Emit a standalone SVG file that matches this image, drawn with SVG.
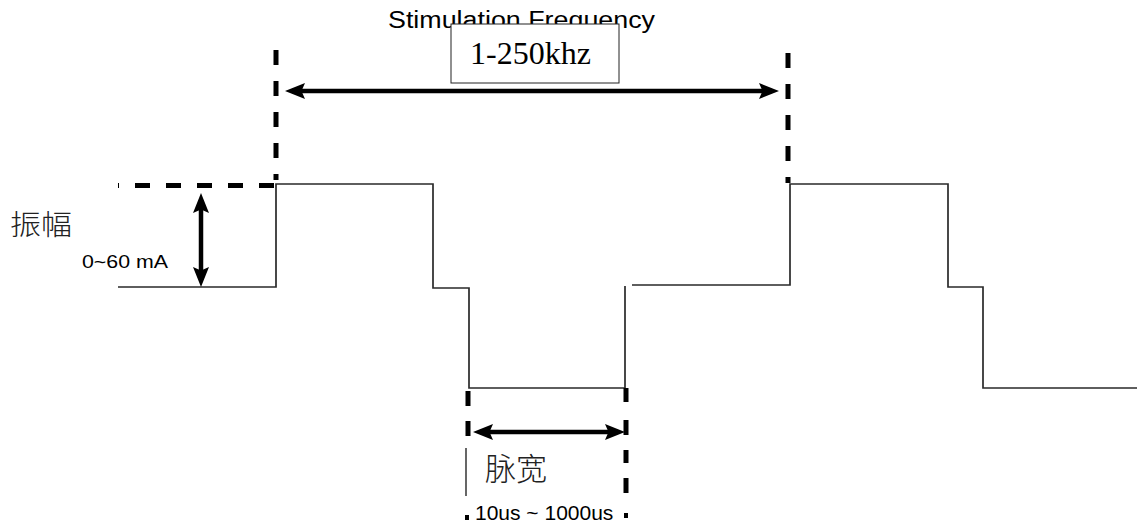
<svg xmlns="http://www.w3.org/2000/svg" width="1137" height="532" viewBox="0 0 1137 532">
<style>
.wave{fill:none;stroke:#2a2a2a;stroke-width:1.7}
.dash{fill:none;stroke:#000;stroke-width:5}
.arr{fill:none;stroke:#000;stroke-width:4.5}
.sans{font-family:"Liberation Sans",Arial,sans-serif;fill:#000}
.serif{font-family:"Liberation Serif","Times New Roman",serif;fill:#000}
.cjk{font-family:"Noto Sans CJK SC","Noto Sans",sans-serif;font-weight:300;fill:#222}
</style>
<defs>
<marker id="ah" markerUnits="userSpaceOnUse" markerWidth="20" markerHeight="18" refX="13" refY="9" orient="auto-start-reverse" viewBox="0 0 20 18">
<path d="M0,1 L20,9 L0,17 L3.5,9 Z" fill="#000"/>
</marker>
</defs>
<rect width="1137" height="532" fill="#fff"/>
<g id="waveform">
<path class="wave" d="M118,287 H276 V184 H433 V288 H469 V388 H625 V286"/>
<path class="wave" d="M632,285 H790 V184 H948 V287 H983 V388 H1137"/>
</g>
<g id="guides">
<line class="dash" x1="276" y1="50" x2="276" y2="180" stroke-dasharray="15 16"/>
<line class="dash" x1="788" y1="53" x2="788" y2="183" stroke-dasharray="15 16"/>
<line class="dash" x1="118" y1="185.5" x2="274" y2="185.5" stroke-dasharray="15 16" stroke-dashoffset="14"/>
<path class="dash" d="M468,391 V406 M468,421 V436"/>
<path d="M466,448 V496" stroke="#000" stroke-width="1.2"/>
<rect x="465" y="515" width="4" height="5" fill="#000"/>
<path class="dash" d="M626,388 V402 M626,420 V435 M626,450 V463 M626,478 V493"/>
<rect x="624" y="513" width="4" height="5" fill="#000"/>
</g>
<g id="connectors">
<line class="arr" x1="292" y1="91" x2="772" y2="91" marker-start="url(#ah)" marker-end="url(#ah)"/>
<line class="arr" x1="201" y1="200" x2="201" y2="280" marker-start="url(#ah)" marker-end="url(#ah)"/>
<line class="arr" x1="480" y1="432" x2="618" y2="432" marker-start="url(#ah)" marker-end="url(#ah)"/>
</g>
<g id="freq-label">
<text class="sans" x="388" y="28" font-size="23" textLength="267" lengthAdjust="spacingAndGlyphs">Stimulation Frequency</text>
<rect x="451" y="24" width="168" height="59" fill="#fff" stroke="#222" stroke-width="1"/>
<text class="serif" x="470" y="64" font-size="32">1-250khz</text>
</g>
<g id="amp-label">
<text class="cjk" x="10" y="235" font-size="28" textLength="62" lengthAdjust="spacingAndGlyphs">振幅</text>
<text class="sans" x="82" y="268" font-size="19" textLength="86" lengthAdjust="spacingAndGlyphs">0~60 mA</text>
</g>
<g id="width-label">
<text class="cjk" x="485" y="480" font-size="31">脉宽</text>
<text class="sans" x="475" y="520" font-size="21">10us ~ 1000us</text>
</g>
</svg>
